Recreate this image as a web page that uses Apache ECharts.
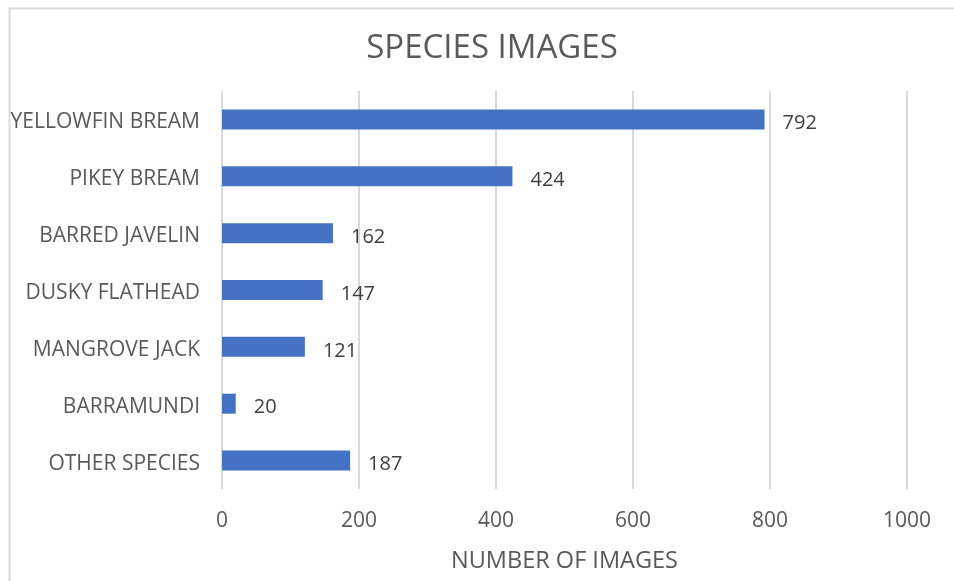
<!DOCTYPE html>
<html>
<head>
<meta charset="utf-8">
<script src="https://cdn.jsdelivr.net/npm/echarts@6/dist/echarts.min.js"></script>
<style>
  html, body { margin: 0; padding: 0; background: #fff; }
  #chart { width: 954px; height: 581px; }
</style>
</head>
<body>
<div id="chart"></div>
<script>
// Species and image counts, listed top to bottom
const species = ['YELLOWFIN BREAM', 'PIKEY BREAM', 'BARRED JAVELIN', 'DUSKY FLATHEAD', 'MANGROVE JACK', 'BARRAMUNDI', 'OTHER SPECIES'];
const imageCounts = [792, 424, 162, 147, 121, 20, 187];
const xTicks = [0, 200, 400, 600, 800, 1000];

const textColor = '#595959';
const fontFamily = '"Open Sans", "Noto Sans", sans-serif';

const chart = echarts.init(document.getElementById('chart'), null, { renderer: 'canvas' });

chart.setOption({
  backgroundColor: '#ffffff',
  animation: false,
  textStyle: { fontFamily: fontFamily, color: textColor },
  graphic: [{
    type: 'rect',
    left: 7, top: 6,
    shape: { width: 1000, height: 700 },
    style: { fill: 'none', stroke: '#D9D9D9', lineWidth: 2 },
    silent: true,
    z: -1
  }],
  title: {
    text: 'SPECIES IMAGES',
    left: 487,
    top: 27,
    textAlign: 'center',
    textStyle: { fontFamily: fontFamily, fontSize: 33, fontWeight: 'normal', color: textColor }
  },
  grid: { left: 222, right: 47, top: 91, bottom: 92, containLabel: false },
  xAxis: {
    type: 'value',
    min: xTicks[0],
    max: xTicks[xTicks.length - 1],
    interval: xTicks[1] - xTicks[0],
    name: 'NUMBER OF IMAGES',
    nameLocation: 'middle',
    nameGap: 60,
    nameTextStyle: { fontFamily: fontFamily, fontSize: 23.5, color: textColor },
    axisLine: { show: false },
    axisTick: { show: false },
    axisLabel: {
      fontFamily: fontFamily, fontSize: 21, color: textColor, margin: 22,
      formatter: function (v) { return String(v); }
    },
    splitLine: { show: true, lineStyle: { color: '#D9D9D9', width: 2 } }
  },
  yAxis: {
    type: 'category',
    data: species,
    inverse: true,
    axisLine: { show: false },
    axisTick: { show: false },
    axisLabel: {
      fontFamily: fontFamily, fontSize: 21, color: textColor, margin: 22,
      verticalAlign: 'top', lineHeight: 22, padding: [-8, 0, 0, 0]
    },
    splitLine: { show: false }
  },
  series: [{
    type: 'bar',
    data: imageCounts,
    barWidth: 20,
    itemStyle: { color: '#4472C4' },
    label: {
      show: true,
      position: 'right',
      distance: 18,
      offset: [0, 4],
      fontFamily: fontFamily,
      fontSize: 20,
      color: '#404040'
    }
  }]
});
</script>
</body>
</html>
